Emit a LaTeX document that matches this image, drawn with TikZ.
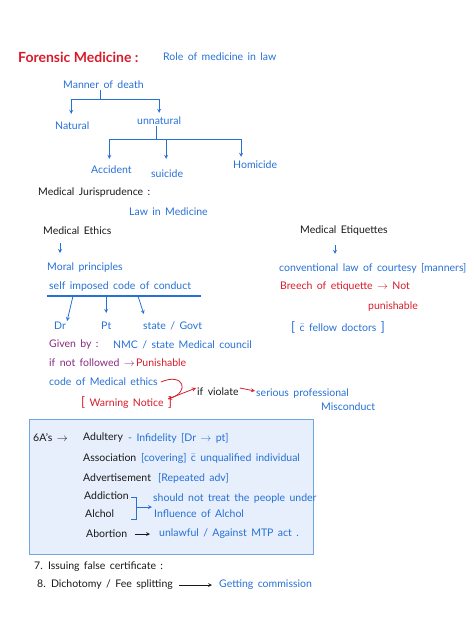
\documentclass[tikz,border=0pt]{standalone}
\usepackage{xcolor}
\usepackage{amsmath, amssymb}
\usepackage{fontspec}
\setmainfont{Lato}
\usepackage{tikz}

\definecolor{penblue}{RGB}{38,112,214}
\definecolor{penred}{RGB}{214,28,42}
\definecolor{penpurple}{RGB}{135,42,128}
\definecolor{penblack}{RGB}{25,25,25}
\definecolor{boxfill}{RGB}{230,239,251}
\definecolor{boxline}{RGB}{112,165,228}

\newcommand{\handfont}{\fontsize{10.5}{12}\selectfont\spaceskip=4.4pt plus 1pt minus 1pt\relax}
\newcommand{\bigbr}[1]{{\fontsize{13}{13}\selectfont #1}}

\tikzset{
    txt/.style={anchor=west, inner sep=1pt, font=\handfont, text=penblack},
    bl/.style={txt, text=penblue},
    rd/.style={txt, text=penred},
    pp/.style={txt, text=penpurple},
    bline/.style={draw=penblue, line width=0.8pt},
    rline/.style={draw=penred, line width=0.8pt},
    kline/.style={draw=penblack, line width=0.7pt}
}

\begin{document}
\begin{tikzpicture}[x=1pt, y=-1pt, >=stealth]
    \useasboundingbox (0,0) rectangle (474,632);

    % heading
    \node[rd, font=\fontsize{14}{16}\selectfont\bfseries] at (17,57) (title) {Forensic Medicine :};
    \node[bl] at (162,57) (role) {Role of medicine in law};

    % manner of death
    \node[bl] at (62,85) (manner) {Manner of death};
    \node[bl] at (54,126) (natural) {Natural};
    \node[bl] at (136,121) (unnatural) {unnatural};
    \node[bl] at (90,170) (accident) {Accident};
    \node[bl] at (150,174) (suicide) {suicide};
    \node[bl] at (232,165) (homicide) {Homicide};

    \coordinate (mbar) at (100,99);
    \coordinate (ubar) at (156,139);
    \draw[bline] (manner.south -| mbar) -- (mbar);
    \draw[bline, ->, shorten >=7pt] (mbar) -| ([xshift=-1pt]natural.north);
    \draw[bline, ->, shorten >=3pt] (mbar) -| (unnatural.north);
    \draw[bline] (unnatural.south -| ubar) -- (ubar);
    \draw[bline, ->, shorten >=6pt] (ubar) -| ([xshift=-2pt]accident.north);
    \draw[bline, ->, shorten >=10pt] (ubar) -| ([xshift=-1pt]suicide.north);
    \draw[bline, ->, shorten >=3pt] (ubar) -| ([xshift=-14pt]homicide.north);

    % jurisprudence
    \node[txt] at (37,193) (juris) {Medical Jurisprudence :};
    \node[bl] at (128,212) (lawin) {Law in Medicine};
    \node[txt] at (42,231) (ethics) {Medical Ethics};
    \node[txt] at (299,231) (etiq) {Medical Etiquettes};

    \node[bl] at (46,268) (moral) {Moral principles};
    \node[bl] at (48,287) (conduct) {self imposed code of conduct};
    \node[bl] at (53,326) (dr) {Dr};
    \node[bl] at (100,326) (pt) {Pt};
    \node[bl] at (142,326) (state) {state / Govt};

    \draw[bline, ->, shorten <=7pt, shorten >=9pt] (ethics.south -| 60,0) -- (moral.north -| 60,0);
    \coordinate (uline) at (47,296);
    \draw[bline, line width=1.1pt] (uline) -- (uline -| 201,0);
    \draw[bline, ->] (uline -| 73,0) -- (dr.north east);
    \draw[bline, ->, shorten >=8pt] (uline -| pt) -- (pt.north);
    \draw[bline, ->, shorten >=7pt] (uline -| 138,0) -- (state.north -| 146,0);

    \node[bl] at (278,268) (courtesy) {conventional law of courtesy [manners]};
    \node[rd] at (279,287) (breech) {Breech of etiquette $\rightarrow$ Not};
    \node[rd] at (367,307) (notpun) {punishable};
    \node[bl] at (290,327) (fellow) {\bigbr{[} $\bar{\text{c}}$ fellow doctors \bigbr{]}};

    \draw[bline, ->, shorten <=8pt, shorten >=8pt] (etiq.south -| 335,0) -- (courtesy.north -| 335,0);

    % council
    \node[pp] at (48,345) (given) {Given by :};
    \node[bl] at (112,345) (nmc) {NMC / state Medical council};
    \node[pp] at (48,363) (ifnot) {if not followed $\rightarrow$};
    \node[rd] at (135,363) (punish) {Punishable};
    \node[bl] at (48,382) (code) {code of Medical ethics};
    \node[rd] at (80,402) (warning) {\bigbr{[} Warning Notice \bigbr{]}};
    \node[txt] at (196,392) (violate) {if violate};
    \node[bl] at (255,394) (serious) {serious professional};
    \node[bl] at (320,407) (miscond) {Misconduct};

    \coordinate (hook) at (168,399);
    \draw[rline, ->] ([xshift=2pt]code.east) .. controls (184,372) and (190,392) .. (hook);
    \draw[rline, ->] (hook) -- ([yshift=4pt]violate.west);
    \draw[rline, ->] ([yshift=4pt]violate.east) -- ([yshift=3pt]serious.west);

    % six A's
    \draw[draw=boxline, fill=boxfill, line width=0.9pt] (29,419) rectangle (313,554);
    \node[txt] at (32,438) (sixa) {6A's $\rightarrow$};
    \node[txt] at (82,438) (adultery) {Adultery};
    \node[bl] at (127,438) (infid) {- Infidelity [Dr $\rightarrow$ pt]};
    \node[txt] at (82,458) (assoc) {Association};
    \node[bl] at (140,458) (covering) {[covering] $\bar{\text{c}}$ unqualified individual};
    \node[txt] at (82,478) (advert) {Advertisement};
    \node[bl] at (157,478) (repeated) {[Repeated adv]};
    \node[txt] at (83,496) (addiction) {Addiction};
    \node[txt] at (84,514) (alchol) {Alchol};
    \node[bl] at (152,499) (should) {should not treat the people under};
    \node[bl] at (153,514) (influence) {Influence of Alchol};
    \node[txt] at (85,534) (abortion) {Abortion};
    \node[bl] at (158,534) (unlawful) {unlawful / Against MTP act .};

    \draw[bline] (131,497) -- (136,497) -- (136,519) -- (131,519);
    \coordinate (brace) at (136,507);
    \draw[bline, ->] (brace) -- (brace -| should.west);
    \draw[kline, ->, shorten <=7pt, shorten >=8pt] (abortion.east) -- (unlawful.west);

    % others
    \node[txt] at (33,567) (issuing) {7.\enspace Issuing false certificate :};
    \node[txt] at (36,585) (dicho) {8.\enspace Dichotomy / Fee splitting};
    \node[bl] at (218,585) (getting) {Getting commission};
    \draw[kline, ->, shorten <=5pt, shorten >=6pt] (dicho.east) -- (getting.west);
\end{tikzpicture}
\end{document}
